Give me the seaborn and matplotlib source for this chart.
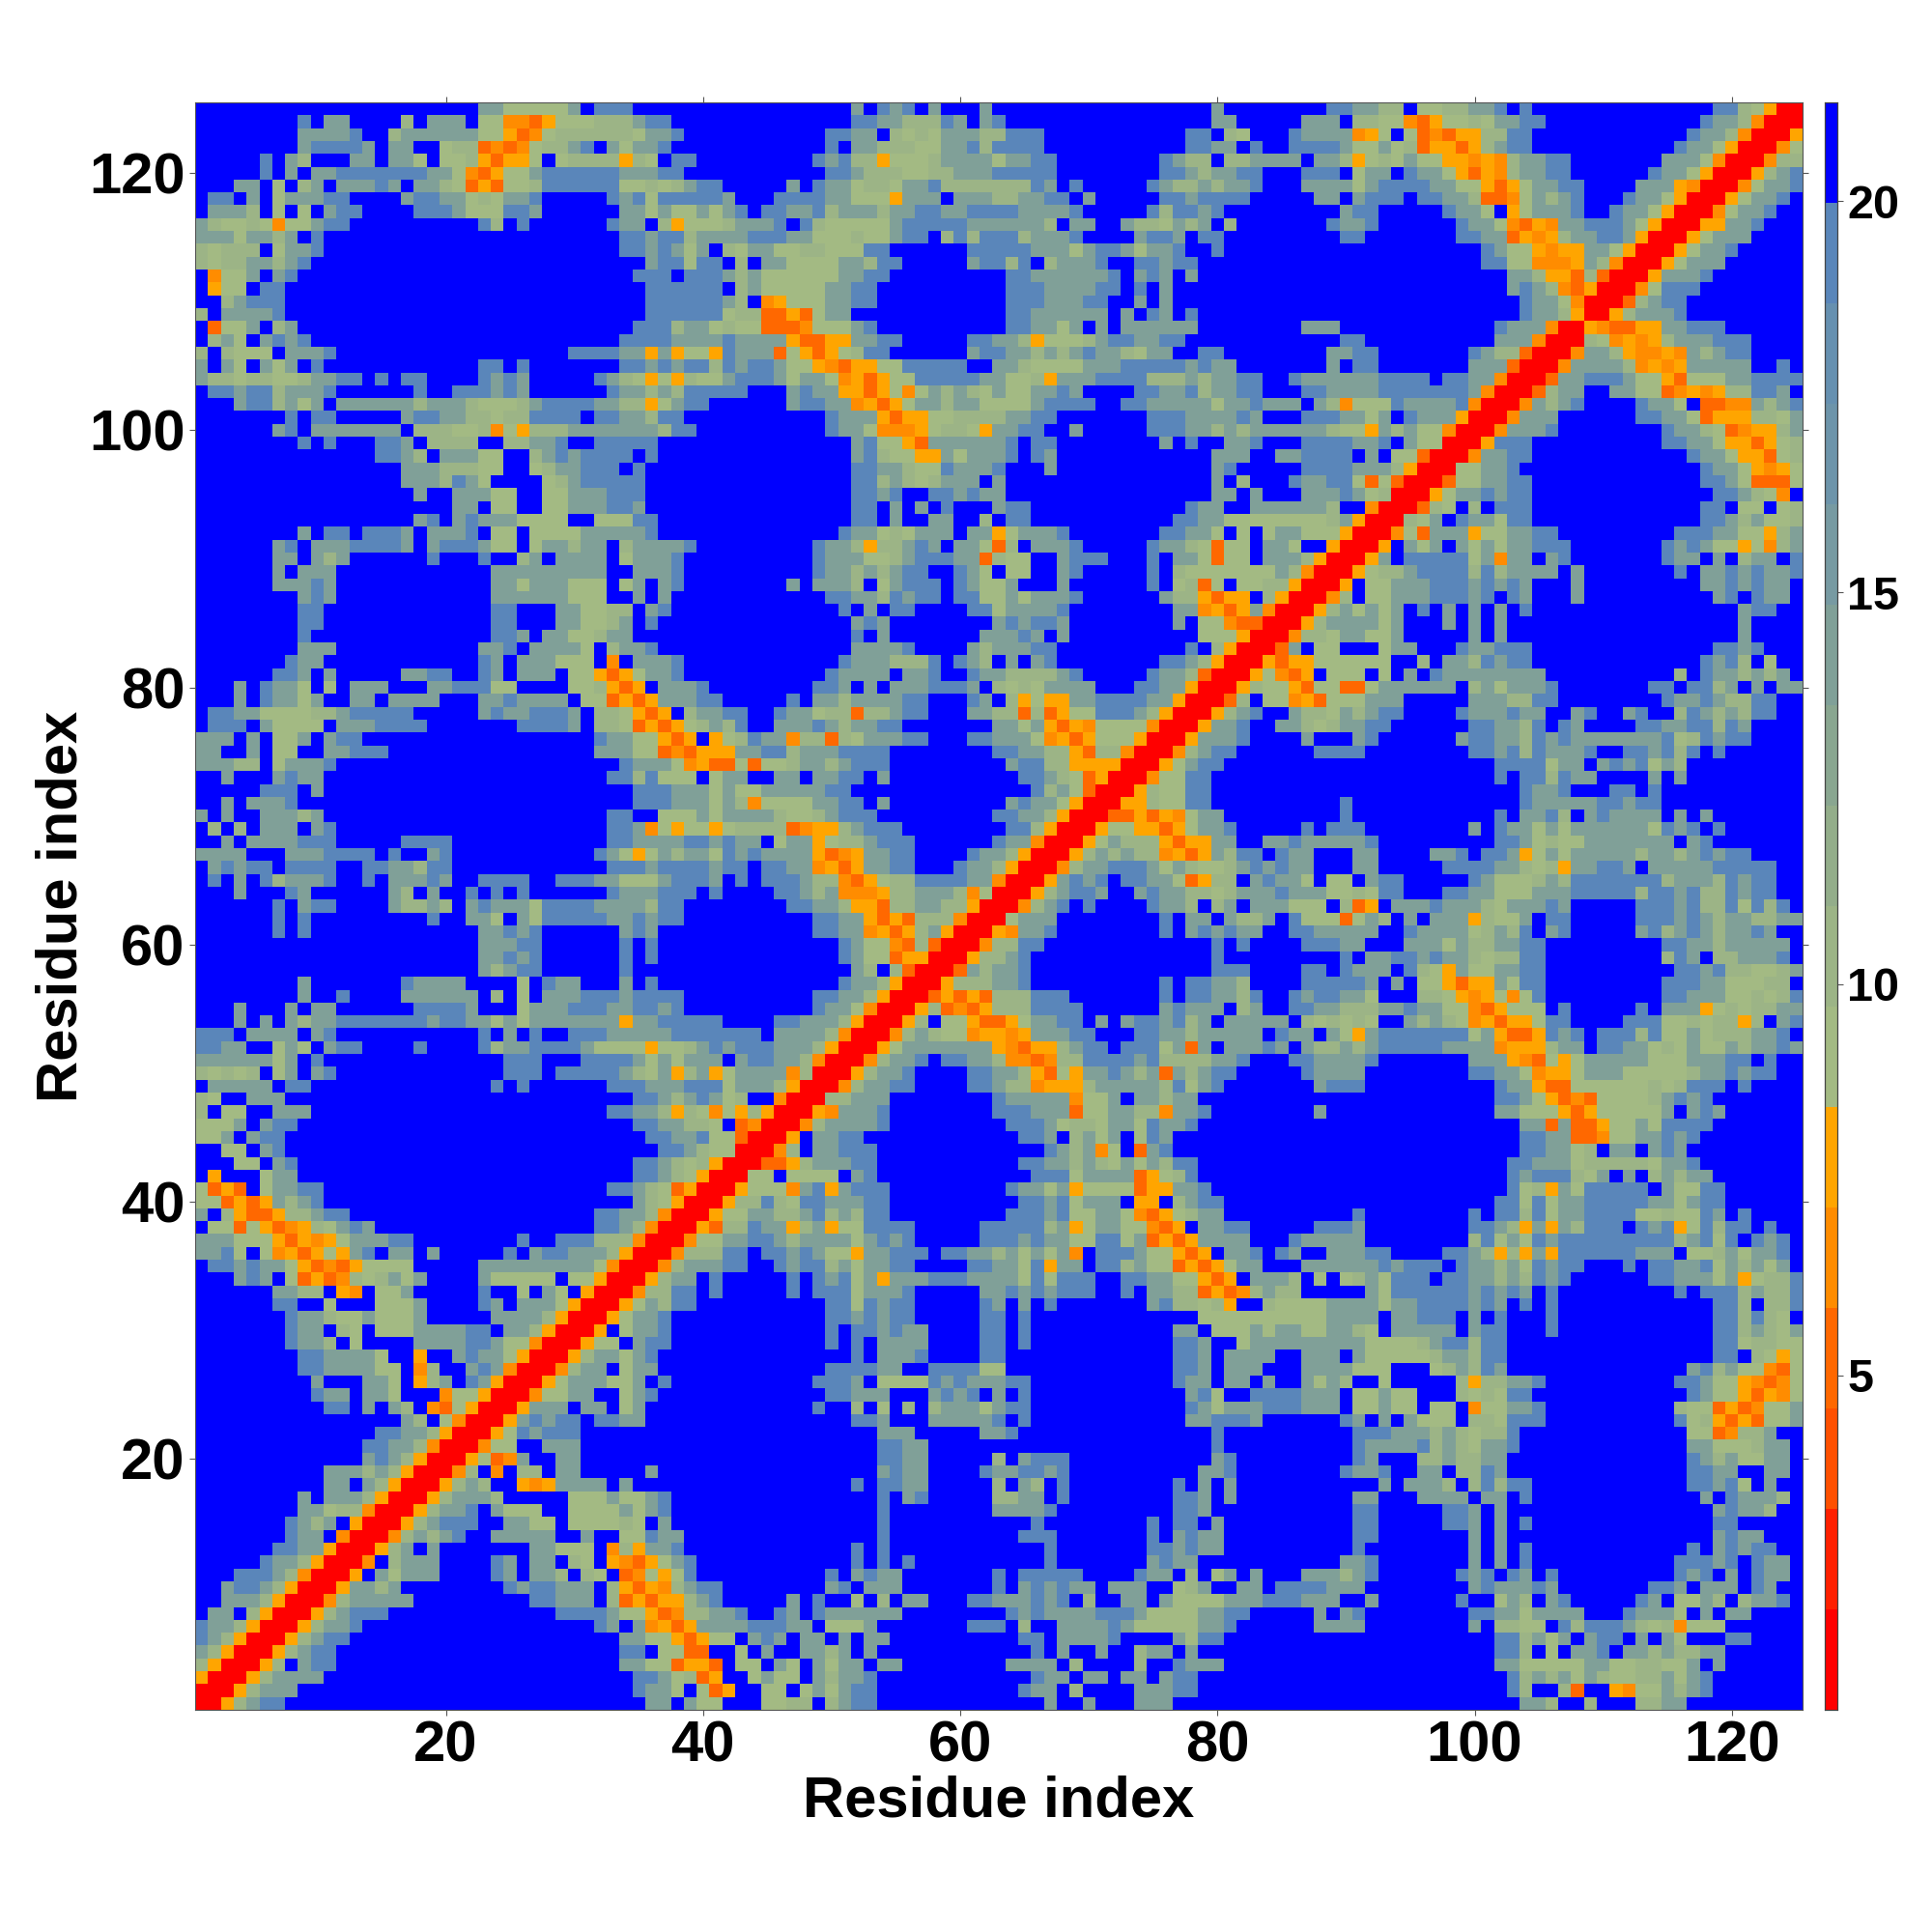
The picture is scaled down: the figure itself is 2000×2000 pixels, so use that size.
import numpy as np
import pandas as pd
import matplotlib
matplotlib.use("Agg")
import matplotlib.pyplot as plt
from matplotlib.colors import ListedColormap
import seaborn as sns

# Distance map, symmetric: one text row per residue y (125 downwards), for x <= y.
# Each item is "first_x:codes"; cells not listed are beyond the cut-off (blue).
ROWS_TOP = [
"23:ggsssssg 32:bbb 52:g 54:bgb 58:g 62:g 80:g 89:bbgghh 96:sshhg 101:gb 104:b 119:bbhsoRR",
"9:b 11:gg 17:h 19:ggg 23:ssnnrosss 32:hhhgbb 52:bb 54:gghhhbg 62:gb 80:gg 87:ggg 91:hhssnrosshsggbb 118:bgghnRR",
"9:ggggb 16:hgggggg 23:ssornshhhhhhsggb 50:bbgg 55:hshsgggb 62:hhbbb 78:bb 81:hs 86:bgggg 91:nos 95:srnroohhbb 117:bgghnRR",
"9:gbbbbg 16:gg 20:shh 23:rnrnshhgb 33:gsggb 50:b 52:gghhhss 59:ggbhbbbb 78:bbgg 83:b 86:bbbbgssgshroorohgh 103:bb 116:bgg 119:soRR",
"6:b 8:gh 13:gg 16:ggs 20:ssh 23:oroos 29:shhhh 34:ohs 38:bb 49:bgbhhoss 57:shgggg 63:sggbb 76:bghh 81:hhgg 85:gg 88:ggho 92:shsgss 98:oonon 103:hggbb 115:gggsnRR",
"6:b 8:g 10:ggbbbbbbbggsnro 25:ssg 28:bbbbbbggg 37:bb 50:bbghhhsshhgggbbbbb 76:bbghg 81:gbb 87:bbb 91:sgg 95:bggsoron 103:hg 105:gbb 114:bggsoRR",
"4:gg 7:s 9:hg 12:gggbg 18:gghsrorssh 28:bbbbbbsshs 38:hgbb 47:g 49:bggg 52:shhsggbb 59:hhhhhhhb 67:g 69:b 75:bghhgh 81:ggb 87:gggg 91:sgbbbbg 98:gssoro 104:sggbb 113:gggonRR",
"2:bb 5:g 7:sgggbb 17:gbbgg 22:shsggb 33:bgbsbbbbbg 46:bbbbgg 52:ssso 56:ggg 60:ggghhggbb 70:g 76:bbgb 80:bbb 88:gg 91:gbbb 96:bbgghrrn 104:sghgb 112:bggsoRR",
"2:gggh 7:s 9:s 11:gbb 18:bbb 21:gsss 25:bbg 34:ggsgssgsg 43:b 45:bbggbhgggh 55:ggbbgg 61:bbbb 65:ggggb 75:bhbbgb 80:b 90:gbb 98:bggs 103:o 104:sgggb 111:bggsoRR",
"1:ghssh 6:sn 8:ssgbb 23:bh 26:b 33:bgg 37:hosssh 43:ggg 46:b 48:bhsssssgbbbbbggggggh 69:g 70:g 73:g 74:hhsghg 81:h 89:bggb 99:bggsnronggbbb 112:gsoRR",
"1:gggsgghg 10:b 34:bbgbbhgg 42:g 43:gbbb 47:ggssshssgbb 59:hbh 62:bbbh 66:gggb 74:gbbg 79:bb 90:bb 99:bbggronohggb 111:bgoRR",
"1:hshhh 7:sgg 10:b 34:bbgbgsg 42:h 43:sggsshhsssbb 61:bbbbb 66:gggs 70:gbb 73:gsggb 80:b 101:bgssonoo 109:ggsoRR",
"1:hshhgghgb 36:gbbsbb 43:h 45:ggssssgghbb 61:gbbhb 67:hgggb 74:bbgbb 101:bbssnnno 109:ghnRR",
"2:nssg 7:gb 35:bbb 39:bbbg 43:hgssssssggbb 64:bbggggggb 74:gbg 78:g 103:gghoorhrRR",
"2:oss 6:bb 36:bbbbbb 43:hgsssssggbb 64:bbbggggbb 74:b 76:g 103:gbghnroRR",
"3:hgbbb 36:bbbbbbg 43:h 45:nosssggbb 64:bbbgggbb 74:g 76:g 104:bggsnRR",
"1:h 3:ggggb 36:bbbbbbs 43:hhrrorsgg 64:bbggggg 71:g 73:g 75:bg 78:b 104:bgghoRR",
"2:rssg 7:hg 35:bbbhggsh 43:ssrrrnsssgb 64:bbggsg 71:g 73:gggggg 87:ggg 102:bgggnRR",
"2:hgs 6:gbgb 34:bbbbggggb 43:ggggorroogg 54:bb 61:bbgghosssh 71:gb 73:bggbb 90:bb 102:gggnRR",
"1:h 3:hsss 8:gggb 30:bbbbggogossob 43:gggrsoroshbb 61:gbbgghghgbgghsgg 79:bb 89:ggbb 100:bghhrRR",
"1:g 3:gs 6:gsg 10:b 23:bb 26:b 34:bbgbgbbhb 43:gbbgssonrooss 56:bbbbb 63:gghssssgggbbbbbgbg 81:g 89:g 91:bb 100:gggrRR",
"1:ghhshhss 9:hggbb 15:b 17:bb 23:bg 25:bg 32:bghsosohssg 43:bbbgsggsnorossbbbbbb 62:ggsshogggbb 73:bbg 75:hhhghggbb 86:bggggggbbbb 98:bbggnRR",
"2:bbgbbhgggb 18:b 21:bbbgbg 33:bggh 37:gh 39:bbbb 43:b 47:gbggoorosnsghghg 62:sgssgg 68:bg 74:bb 76:ggbhg 81:gbb 87:bbggg 92:gbbbbbbbg 101:nRR",
"4:gbbhgsg 12:ggggggh 19:gggh 23:sssh 27:gbbbbgg 34:hhosgbb 47:gbbggnoros 56:sgghg 61:gssssgbb 68:bbb 73:bbgggggsggbg 85:gg 88:ghnsssbggggbs 100:nRR",
"8:b 10:bb 17:gbbgghhshh 27:bbbb 32:bbg 35:ghbb 50:bgggorooss 58:ssh 61:hhhggbb 75:bbbggg 81:gbg 87:bbbggsg 95:bggg 99:oRR",
"7:gb 10:ggggggg 18:hhhsshnsohhh 30:gggggg 36:gh 38:bb 50:bggsnnnos 58:shhsoggbb 69:g 75:bbbggh 81:ghgg 85:gggghssoghgss 98:nRR",
"9:b 11:b 15:bbg 19:hhhh 25:hhggb 32:bbbbb 52:gbssorggggggb 66:b 67:b 76:g 78:b 81:ggb 87:bbbbggb 95:gss 98:RR",
"15:bbgh 20:gggss 27:hgbg 31:bbbb 36:b 52:gbhssoo 59:gsgggb 66:bg 80:ggg 85:gg 87:bbbb 92:g 94:ssrRR",
"17:ggghhhss 27:shggbbb 35:b 52:bbgghss 59:bggg 63:b 67:g 80:gb 87:bbbbggghoRR",
"17:ggghb 22:gs 28:shgbbbbb 52:bbhghshggg 63:g 80:g 82:h 86:bggbbsrsrRR",
"18:g 21:ggg 24:ss 28:ssgggbbb 52:bbgb 58:bbgb 62:gg 80:gg 83:g 87:gggbgshRR",
"21:gg 24:ss 28:ssgggbbg 52:bb 55:g 57:g 59:b 63:g 64:bb 78:bgg 83:gg 85:ggggh 92:nRR",
"18:gb 21:gbggg 26:ssss 32:sssbb 52:bb 55:g 58:gg 62:h 64:bb 77:bbggssss 85:sssshgoRR",
"9:g 11:bb 14:bbbg 19:gggb 24:ss 27:ssssgggggb 51:bggshsggg 61:ggosgggb 76:bbggs 82:s 84:s 85:ggsssoRR",
"7:gb 10:gggbbbbg 19:gbbbg 24:ss 27:sgghgg 34:hggggb 49:bgghohhgbg 60:ggsrh 66:gggb 75:bggh 79:srss 84:g 85:gs 89:oRR",
"7:gg 10:ghg 19:b 23:b 26:hg 29:gggg 34:sgggb 49:bgggsshgbbb 60:ggrhss 68:gbbb 75:b 77:ggsrss 84:g 85:ggh 88:oRR",
"7:g 9:ggg 24:gg 26:ggggggg 35:gggb 49:bgghghgbb 60:bgs 64:ss 68:gb 75:b 77:hssssssss 85:ghnRR",
"7:gggbg 24:ggsggg 30:sss 34:sg 37:gb 47:g 49:gggh 54:sgbbb 60:bgssg 68:g 75:b 77:shrs 82:ssh 85:hoRR",
"9:gbg 24:gggggg 30:sss 35:g 37:g 50:bbggh 55:bgbb 60:bbssgsgggb 76:ghho 80:roo 84:h 85:oRR",
"9:bb 24:bb 29:g 30:gsshh 36:gb 51:b 53:g 55:bb 61:bbsggggb 77:gg 79:nor 82:o 83:g 84:n 85:RR",
"9:bb 24:bb 29:ggssh 34:g 36:b 52:gbg 63:gbgbbg 77:g 79:ss 81:nrrR 85:R",
"9:b 24:bbg 28:ggsshgg 52:b 54:g 62:gg 64:gbg 68:g 79:sss 82:oRR",
]
ROWS_MID = [
"9:ggg 23:ggb 27:gggg 31:s 33:hggb 52:ggggb 61:ghgggb 67:b 78:b 80:h 81:oRR",
"8:bgg 23:bg 26:gggsss 33:n 35:ggg 38:b 51:bggghhhb 60:bgh 64:g 66:gb 76:bbghoRR",
"7:bbg 11:g 17:ggbb 23:bg 26:ggg 30:sss 32:oro 35:sggb 50:bgggg 56:ggb 61:bgghhhhgg 69:b 75:bgghrRR",
"4:g 6:bggs 11:s 13:ggg 19:ggbb 23:bss 30:ssh 33:oro 37:ggg 40:b 49:bbg 53:g 55:ggg 58:bbbg 63:hshsgggg 74:bbggoRR",
"4:g 6:bggsg 13:gg 16:gggg 23:ggb 26:gggg 31:ss 33:rorogggg 40:bb 47:b 49:gghgg 54:ggbb 61:bg 64:hoss 67:oogg 71:bbb 74:bggoRR",
"2:bbggsssshhgbbbbb 23:gbggbbbg 32:hhs 35:oro 39:hggb 43:b 46:bggshhrhhgbb 61:gghhrhro 69:ssbbb 74:gho 77:RR",
"2:bbb 6:gssss 12:gggbbbb 26:bbbbg 32:hhsrorosh 41:g 42:h 43:b 46:gggbghggbb 63:ggsgoronssss 75:nRR",
"1:ggg 5:g 7:ssg 11:gbb 32:bggssoro 41:os 43:hbggnhhrhsggg 56:bb 61:bbgggsnoro 71:sss 74:oRR",
"1:gg 5:g 7:ss 11:ggbbb 32:gggssrnroo 42:o 43:ggbbhggg 51:bbbb 63:bbgghhorhhnRR",
"1:ggghh 7:sggg 11:b 34:bgggsnorro 43:srsshgghgbbb 64:gbbhhoooo 73:RR",
"3:g 7:gbgg 33:bbhbsss 41:s 42:g 43:g 46:gg 49:gg 51:bb 54:g 65:bbghsro 72:RR",
"6:bbb 10:g 35:bbbggg 41:sg 43:ssgggggbb 66:bhgsrRR",
"3:g 5:gggb 35:bbbggg 41:sg 43:hnssssggbb 54:g 64:gbggso 70:RR",
"1:g 3:g 6:ggghg 33:bb 37:sssgsg 43:ggghsshgbbb 63:bbgghoRR",
"2:h 4:h 6:ggg 10:gb 33:bbgnsosso 42:s 43:hhhhrnoohgbbb 64:bbhoRR",
"3:g 5:ggggbbb 17:bbbb 33:bbggggbbgb 43:gg 46:sggoshhgbbb 63:bggnRR",
"1:gggg 8:gggbbbb 16:b 19:gb 32:bgsosghggsb 43:gbggggornoggbb 61:bgghoRR",
"2:gbgbb 8:bbbb 14:bbgghbb 33:bbbgbbbbgb 43:b 45:bbggnoroggbb 60:bgghoRR",
"2:b 4:g 6:bhgggb 14:b 16:gggbg 23:bbbb 29:bbbggsssgg 38:bbbg 43:b 45:bbbghhnroshhg 57:bb 59:bbggnRR",
"4:g 8:bg 16:gh 19:g 22:b 24:b 26:b 33:bgggbb 39:b 41:b 46:bbghgnnnohhgggh 61:nsRR",
"7:b 9:gbb 16:ghhgh 22:gbgggsbbbbgggghbb 47:bbgghoorhhggh 60:hoRR",
"7:b 9:b 19:b 22:ggs 26:gsbbbbbggbgbb 49:bbggororhhhnRR",
"7:b 9:b 23:ggbgb 34:gbg 49:bbggnoroh 58:go 60:RR",
"23:gggbb 34:b 36:b 51:bgssnrhrRR",
"23:ggbgb 34:b 36:b 51:bgssrooRR",
"23:ghgbb 34:b 52:gh 55:hrRR",
"9:g 17:bgggg 26:s 28:bgg 34:g 36:b 51:bgghoRR",
"9:g 12:b 17:gggggg 24:h 26:s 28:gggbbbgbbbb 49:bbgghoRR",
"4:g 8:g 10:gg 18:bbbbg 26:sgggbbbggbbgb 49:bggsnRR",
"4:g 6:g 8:ghggbbbbbbbgbbgg 24:sgsgggggggoggbbbbb 46:bbgggho 53:RR",
"1:bbb 5:gggg 10:gb 23:b 25:g 27:b 30:bbbggggg 38:bbbbb 43:bb 46:gggghnRR",
"1:bbgg 7:sgs 11:gbb 18:b 23:bhgg 27:bbbbgssssosshgbg 43:bbb 46:gggho 51:RR",
"1:gggggg 7:sg 10:b 25:bbb 31:bbbbgsgsggg 43:gb 45:bggh 49:nRR",
"1:hshsh 7:sg 10:gb 25:bbb 29:bbbbbghsgohgos 43:gggg 47:nh 49:RR",
"2:ggggg 8:bb 24:b 26:b 33:bbbgg 38:gbbbs 43:gggho 48:RR",
"1:hs 5:ggg 35:bb 37:ghgbgs 43:h 46:nRR",
"1:h 3:ss 7:ggg 33:bbgghohsns 43:oho 46:RR",
"1:sssg 6:gbb 35:bbgghhs 43:rn 45:RR",
"1:ssg 5:g 6:bb 36:bbggbss 43:r 44:RR",
"3:ss 6:gb 37:bb 39:ghss 43:RR",
"4:ss 7:gb 35:bbghshoRR",
]
ROWS_LOW = [
"2:o 6:sgg 35:bbghsoRR",
"1:sror 6:sggbb 33:bbghsroRR",
"1:ssrorog 8:hgb 35:ghso 39:RR",
"1:g 3:horrohhgbb 32:bbggh 37:nRR",
"2:ssr 5:sornohsgbg 32:bbgh 36:nRR",
"1:gggsssoronosgggbb 26:b 29:bbbhhhnRR",
"1:ggb 4:s 6:snoro 11:sogb 16:gg 19:g 25:b 27:gbbgggho 35:RR",
"2:bbgbggsornrossss 23:ggggggggg 32:sn 34:RR",
"4:gbg 8:srornhshgsg 23:gsssss 30:ss 32:oRR",
"7:gghh 12:on 15:ssg 23:b 26:s 28:gs 31:oRR",
"7:bb 11:s 15:sssg 23:bg 26:gggs 30:oRR",
"8:bgghssgsssg 24:ggggh 29:oRR",
"8:bgg 12:hs 15:sssgggg 22:bb 25:ggh 28:oRR",
"8:bggh 13:s 18:gggg 22:bbg 25:ssnRR",
"9:bbggggs 18:o 21:gbgg 25:soRR",
"9:bbggggss 18:n 19:h 22:gbg 25:nRR",
"10:g 14:ggs 18:ohg 22:bgoRR",
"10:bgg 14:ggs 20:nssoRR",
"11:bb 14:g 16:gh 19:nrsoRR",
"17:gh 20:snRR",
"15:bbgghoRR",
"14:bbgghnRR",
"14:gbghoRR",
"11:ggghghoRR",
"11:gg 14:ghoRR",
"9:g 11:ggghoRR",
"9:ggshhnRR",
"8:bgh 11:g 13:oRR",
"8:bgg 12:nRR",
"7:bbggoRR",
"6:bgghoRR",
"4:bbbghnRR",
"3:gbbghoRR",
"3:ggghoRR",
"2:gg 5:hoRR",
"1:bgghoRR",
"1:bghoRR",
"1:ghoRR",
"1:hoRR",
"1:oRR",
"1:RR",
"1:R",
]

TICK_VALUES = [20, 40, 60, 80, 100, 120]
CBAR_TICKS = [5, 10, 15, 20]
LEVEL_COLORS = ["#ff0000", "#ff2000", "#ff5000", "#ff6800", "#ff8c00", "#ffa500",
                "#a3ba83", "#9cb486", "#93ad8a", "#89a690", "#80a098", "#779aa2",
                "#6d94aa", "#6690b0", "#5a86ba", "#0000ff"]
CODE_VALUES = {"R": 1.4, "r": 5.2, "n": 6.5, "o": 7.8, "s": 9.1, "h": 10.5,
               "g": 14.2, "b": 19.0, ".": 20.6}
NCELL = 125
VMIN, VMAX = 0.73, 21.26

rows = ROWS_TOP + ROWS_MID + ROWS_LOW
grid = np.full((NCELL, NCELL), CODE_VALUES["."])
for i, row in enumerate(rows[:NCELL]):
    y = NCELL - i
    for seg in row.split():
        start, codes = seg.split(":")
        for k, c in enumerate(codes):
            x = int(start) + k
            if x <= y:
                grid[y - 1, x - 1] = CODE_VALUES[c]
                grid[x - 1, y - 1] = CODE_VALUES[c]
residues = np.arange(1, NCELL + 1)
frame = pd.DataFrame(grid[::-1], index=residues[::-1], columns=residues)

sns.set_theme(style="white")
plt.rcParams["font.family"] = ["Liberation Sans", "DejaVu Sans"]
plt.rcParams["font.weight"] = "bold"
plt.rcParams["text.color"] = "black"
plt.rcParams["axes.labelcolor"] = "black"
plt.rcParams["xtick.labelcolor"] = "black"
plt.rcParams["ytick.labelcolor"] = "black"

fig = plt.figure(figsize=(20, 20), dpi=100)
ax = fig.add_axes([0.101, 0.115, 0.832, 0.832])
cax = fig.add_axes([0.9445, 0.115, 0.0065, 0.832])
sns.heatmap(frame, ax=ax, cbar_ax=cax, cmap=ListedColormap(LEVEL_COLORS),
            vmin=VMIN, vmax=VMAX, square=False, xticklabels=False, yticklabels=False,
            cbar_kws={"ticks": CBAR_TICKS, "drawedges": False})

ax.set_xticks([v - 0.5 for v in TICK_VALUES])
ax.set_xticklabels([str(v) for v in TICK_VALUES], rotation=0)
ax.set_yticks([NCELL - v + 0.5 for v in TICK_VALUES])
ax.set_yticklabels([str(v) for v in TICK_VALUES], rotation=0)
ax.tick_params(axis="both", which="major", direction="out", length=4.5, width=0.8,
               color="#555555", labelcolor="black", labelsize=43, pad=3, top=True,
               right=True, bottom=True, left=True, labeltop=False, labelright=False)
for lab in ax.get_xticklabels() + ax.get_yticklabels():
    lab.set_fontweight("bold")
for spine in ax.spines.values():
    spine.set_visible(True)
    spine.set_color("#555555")
    spine.set_linewidth(0.8)
ax.set_xlabel("Residue index", fontsize=43, fontweight="bold", color="black")
ax.set_ylabel("Residue index", fontsize=43, fontweight="bold", color="black")
ax.xaxis.set_label_coords(0.5, -0.057)
ax.yaxis.set_label_coords(-0.083, 0.5)
ax.xaxis.label.set_verticalalignment("center")
ax.yaxis.label.set_verticalalignment("center")

cax.tick_params(direction="out", length=4.5, width=0.8, color="#555555",
                labelcolor="black", labelsize=35, pad=3, right=True)
for lab in cax.get_yticklabels():
    lab.set_fontweight("bold")
for spine in cax.spines.values():
    spine.set_visible(True)
    spine.set_color("#444444")
    spine.set_linewidth(0.8)

fig.savefig("out.png", dpi=100, facecolor="white")
